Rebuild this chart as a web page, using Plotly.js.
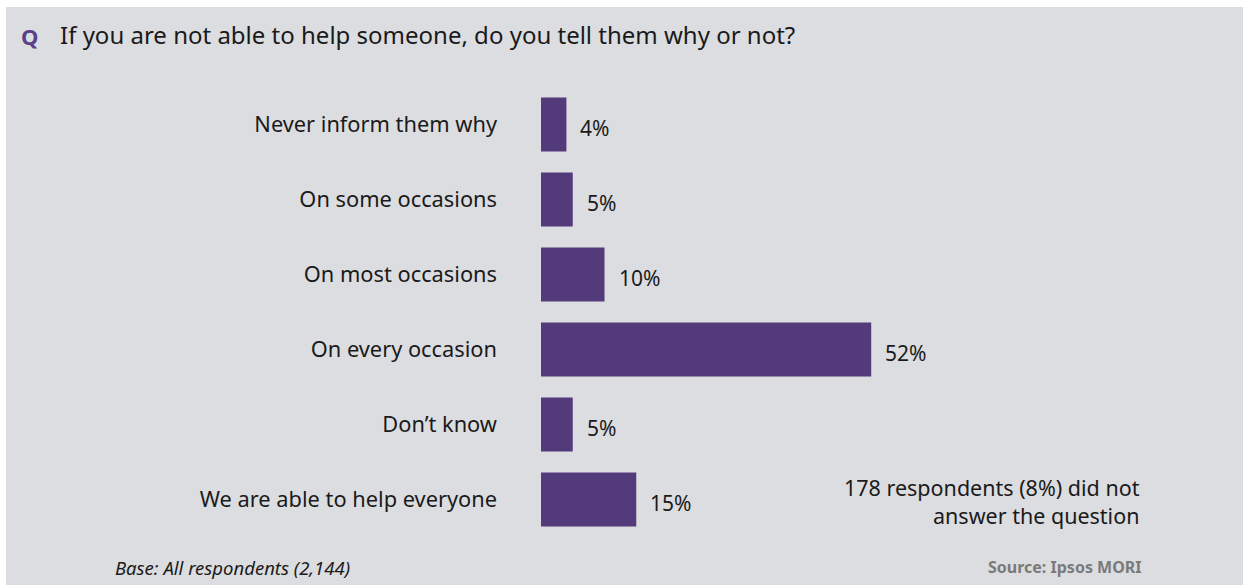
<!DOCTYPE html>
<html>
<head>
<meta charset="utf-8">
<script src="https://cdn.plot.ly/plotly-3.0.1.min.js"></script>
<style>
html,body{margin:0;padding:0;background:#ffffff;width:1243px;height:585px;overflow:hidden;}
#chart{position:absolute;left:6px;top:7px;width:1237px;height:578px;}
</style>
</head>
<body>
<div id="chart"></div>
<script>
const categories = ["Never inform them why", "On some occasions", "On most occasions", "On every occasion", "Don\u2019t know", "We are able to help everyone"];
const values = [4, 5, 10, 52, 5, 15];
const valueLabels = ["4%", "5%", "10%", "52%", "5%", "15%"];
const questionText = "If you are not able to help someone, do you tell them why or not?";
const noteText = "178 respondents (8%) did not<br>answer the question";
const baseText = "Base: All respondents (2,144)";
const sourceText = "Source: Ipsos MORI";

const FONT = "Noto Sans, Open Sans, sans-serif";
const PURPLE = "#533a7b";

const valueAnnotations = categories.map((c, i) => ({
  x: values[i], y: c, xref: "x", yref: "y",
  text: valueLabels[i], showarrow: false,
  xanchor: "left", yanchor: "middle", xshift: 12, yshift: -3,
  font: {family: FONT, size: 21, color: "#1a1a1a"}
}));

const data = [{
  type: "bar", orientation: "h",
  x: values, y: categories,
  marker: {color: PURPLE},
  hoverinfo: "none"
}];

const layout = {
  width: 1237, height: 578,
  paper_bgcolor: "#dcdde0", plot_bgcolor: "#dcdde0",
  margin: {l: 535, r: 67, t: 80, b: 48},
  bargap: 0.28,
  showlegend: false,
  title: {
    text: questionText, xref: "container", yref: "container",
    x: 54/1237, xanchor: "left", y: 1 - 29/578, yanchor: "middle",
    font: {family: FONT, size: 24, color: "#1a1a1a"}
  },
  xaxis: {range: [0, 100], visible: false, fixedrange: true},
  yaxis: {
    type: "category", range: [5.5, -0.5],
    showgrid: false, zeroline: false, showline: false, ticks: "",
    ticklabelstandoff: 43,
    tickfont: {family: FONT, size: 21.8, color: "#1a1a1a"},
    fixedrange: true
  },
  annotations: valueAnnotations.concat([
    {xref: "paper", yref: "paper", x: (13-535)/635, y: 1 + (80-29)/450, xanchor: "left", yanchor: "middle",
     text: "<b>Q</b>", showarrow: false, font: {family: FONT, size: 22, color: "#5b3f8a"}},
    {xref: "paper", yref: "paper", x: (1136-535)/635, y: 1 - (494-80)/450, xanchor: "right", yanchor: "middle",
     align: "right", text: noteText, showarrow: false, font: {family: FONT, size: 21.5, color: "#1a1a1a"}},
    {xref: "paper", yref: "paper", x: (107-535)/635, y: 1 - (560-80)/450, xanchor: "left", yanchor: "middle",
     text: "<i>" + baseText + "</i>", showarrow: false, font: {family: FONT, size: 18.5, color: "#1a1a1a"}},
    {xref: "paper", yref: "paper", x: (1138-535)/635, y: 1 - (560-80)/450, xanchor: "right", yanchor: "middle",
     text: "<b>" + sourceText + "</b>", showarrow: false, font: {family: FONT, size: 16, color: "#7a7a7a"}}
  ])
};

Plotly.newPlot("chart", data, layout, {displayModeBar: false, staticPlot: true});
</script>
</body>
</html>
